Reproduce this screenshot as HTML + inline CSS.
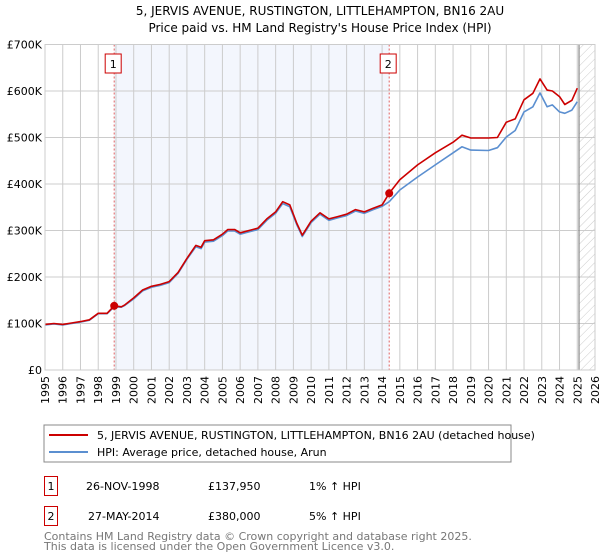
<!DOCTYPE html>
<html><head><meta charset="utf-8">
<style>
body{margin:0;background:#fff;font-family:"DejaVu Sans","Liberation Sans",sans-serif;}
#wrap{position:relative;width:600px;height:560px;overflow:hidden;}
svg text{font-family:"DejaVu Sans","Liberation Sans",sans-serif;}
</style></head>
<body>
<div id="wrap">
<svg id="chart" width="600" height="560">
  <text x="320" y="15" font-size="12" text-anchor="middle">5, JERVIS AVENUE, RUSTINGTON, LITTLEHAMPTON, BN16 2AU</text>
  <text x="320" y="32" font-size="12" text-anchor="middle">Price paid vs. HM Land Registry's House Price Index (HPI)</text>
  <defs>
    <pattern id="hatch" width="6" height="6" patternUnits="userSpaceOnUse" patternTransform="rotate(45)">
      <line x1="0" y1="0" x2="0" y2="6" stroke="#ccc" stroke-width="1"/>
    </pattern>
  </defs>
  <g id="plot"></g>
  <rect x="44" y="425" width="467" height="37" fill="#fff" stroke="#888"/>
  <line x1="49" y1="435" x2="88" y2="435" stroke="#cc0000" stroke-width="2"/>
  <text x="97" y="439" font-size="11">5, JERVIS AVENUE, RUSTINGTON, LITTLEHAMPTON, BN16 2AU (detached house)</text>
  <line x1="49" y1="452" x2="88" y2="452" stroke="#5b8fd0" stroke-width="2"/>
  <text x="97" y="456" font-size="11">HPI: Average price, detached house, Arun</text>

  <rect x="44.5" y="476.5" width="13" height="19" fill="#fff" stroke="#cc0000"/>
  <text x="51" y="490" font-size="11" text-anchor="middle">1</text>
  <text x="86" y="490" font-size="11">26-NOV-1998</text>
  <text x="208" y="490" font-size="11">£137,950</text>
  <text x="309" y="490" font-size="11">1% ↑ HPI</text>
  <rect x="44.5" y="506.5" width="13" height="19" fill="#fff" stroke="#cc0000"/>
  <text x="51" y="520" font-size="11" text-anchor="middle">2</text>
  <text x="88" y="520" font-size="11">27-MAY-2014</text>
  <text x="208" y="520" font-size="11">£380,000</text>
  <text x="309" y="520" font-size="11">5% ↑ HPI</text>
  <text x="44" y="540" font-size="11" fill="#777">Contains HM Land Registry data © Crown copyright and database right 2025.</text>
  <text x="44" y="550" font-size="11" fill="#777">This data is licensed under the Open Government Licence v3.0.</text>
</svg>
</div>
<script>
const years = [1995,1996,1997,1998,1999,2000,2001,2002,2003,2004,2005,2006,2007,2008,2009,2010,2011,2012,2013,2014,2015,2016,2017,2018,2019,2020,2021,2022,2023,2024,2025,2026];
const yTicks = [0,100000,200000,300000,400000,500000,600000,700000];
const yTickLabels = ["£0","£100K","£200K","£300K","£400K","£500K","£600K","£700K"];
const priceT = [1995,1995.5,1996,1996.5,1997,1997.5,1998,1998.5,1998.9,1999.3,1999.5,2000,2000.5,2001,2001.5,2002,2002.5,2003,2003.5,2003.8,2004,2004.5,2005,2005.3,2005.7,2006,2006.5,2007,2007.5,2008,2008.4,2008.8,2009.2,2009.5,2010,2010.5,2011,2011.5,2012,2012.5,2013,2013.5,2014,2014.4,2015,2016,2017,2018,2018.5,2019,2020,2020.5,2021,2021.5,2022,2022.5,2022.9,2023.3,2023.6,2024,2024.3,2024.7,2025];
const propertyK = [98,100,98,101,104,108,122,122,138,136,140,155,172,180,184,190,210,240,268,264,278,280,292,302,302,295,300,305,325,340,362,355,315,290,320,338,325,330,335,345,340,348,355,380,409,441,467,490,505,499,499,500,533,540,581,595,626,602,600,588,571,580,606];
const hpiK = [97,99,97,100,103,107,121,121,136,135,139,153,170,178,182,188,208,238,265,261,275,277,289,299,299,292,297,302,322,337,358,351,312,287,317,335,322,327,332,342,337,345,352,362,387,415,441,467,480,473,472,478,501,515,555,566,596,566,570,555,552,559,577];
const sales = [{n:"1",t:1998.9,v:137950},{n:"2",t:2014.4,v:380000}];

const L=45,R=595,T=44.5,B=370;
const x = t => L+(t-1995)*(R-L)/31;
const y = v => B-v*(B-T)/700000;
const NS="http://www.w3.org/2000/svg";
const g=document.getElementById('plot');
function mk(tag,attrs){const e=document.createElementNS(NS,tag);for(const k in attrs)e.setAttribute(k,attrs[k]);g.appendChild(e);return e;}

let e=mk('rect',{x:x(sales[0].t),y:T,width:x(sales[1].t)-x(sales[0].t),height:B-T,fill:'#f3f6fd'});


e=mk('rect',{x:x(2025.1),y:T,width:R-x(2025.1),height:B-T,fill:'url(#hatch)'});


years.forEach(yr=>{
  const l=mk('line',{x1:x(yr),x2:x(yr),y1:T,y2:B,stroke:'#ccc','stroke-width':1});
  
  
  const t=mk('text',{x:0,y:0,'font-size':11,'text-anchor':'end',transform:`translate(${x(yr)+4},${B+6}) rotate(-90)`});
  t.textContent=yr;
  
  
});
yTicks.forEach((v,i)=>{
  const l=mk('line',{x1:L,x2:R,y1:y(v),y2:y(v),stroke:'#ccc','stroke-width':1});
  
  
  const t=mk('text',{x:L-3,y:y(v)+4,'font-size':11,'text-anchor':'end'});
  t.textContent=yTickLabels[i];
  
  
});
e=mk('line',{x1:x(2025.1),x2:x(2025.1),y1:T,y2:B,stroke:'#888','stroke-width':1.2});


sales.forEach(s=>{
  const l=mk('line',{x1:x(s.t),x2:x(s.t),y1:T,y2:B,stroke:'#e06060','stroke-width':1,'stroke-dasharray':'2,2'});
  
  
  const r=mk('rect',{x:x(s.t)-9,y:54,width:16,height:19,fill:'#fff',stroke:'#cc0000'});
  
  
  const t=mk('text',{x:x(s.t)-1,y:68,'font-size':11,'text-anchor':'middle'});
  t.textContent=s.n;
  
  
});
function line(vals,color,name){
  const d=priceT.map((t,i)=>(i?'L':'M')+x(t).toFixed(1)+','+y(vals[i]*1000).toFixed(1)).join(' ');
  const p=mk('path',{d:d,fill:'none',stroke:color,'stroke-width':1.6,'stroke-linejoin':'round'});
  
  
}
line(hpiK,'#5b8fd0','hpi-line');
line(propertyK,'#cc0000','property-price-line');
sales.forEach(s=>{
  const c=mk('circle',{cx:x(s.t),cy:y(s.v),r:4,fill:'#cc0000'});
  
  
});
e=mk('rect',{x:L,y:T,width:R-L,height:B-T,fill:'none',stroke:'#ccc'});


</script>
</body></html>
